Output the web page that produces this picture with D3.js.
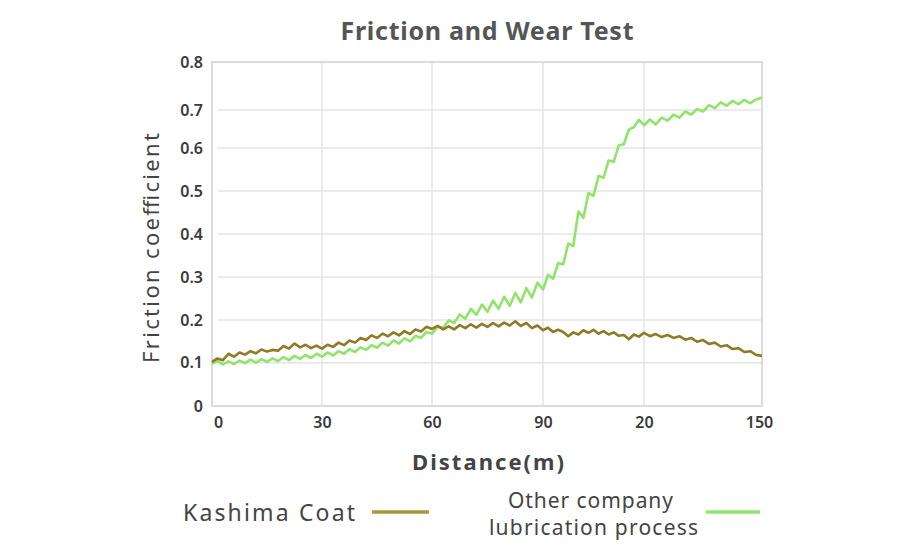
<!DOCTYPE html>
<html>
<head>
<meta charset="utf-8">
<script src="https://cdn.jsdelivr.net/npm/d3@7"></script>
<style>
  html, body { margin: 0; padding: 0; background: #fff; overflow: hidden; }
  svg { display: block; }
  text { font-family: "Noto Sans", "Liberation Sans", sans-serif; }
</style>
</head>
<body>
<div id="chart"></div>
<script>
// Data
const distance = [
  0, 1.5, 3, 4.5, 6, 7.5, 9, 10.5, 12, 13.5, 15, 16.5, 18, 19.5, 21, 22.5, 24, 25.5, 27, 28.5,
  30, 31.5, 33, 34.5, 36, 37.5, 39, 40.5, 42, 43.5, 45, 46.5, 48, 49.5, 51, 52.5, 54, 55.5, 57, 58.5,
  60, 61.5, 63, 64.5, 66, 67.5, 69, 70.5, 72, 73.5, 75, 76.5, 78, 79.5, 81, 82.5, 84, 85.5, 87, 88.5,
  90, 91.5, 93, 94.5, 96, 97.5, 99, 100.5, 102, 103.5, 105, 106.5, 108, 109.5, 111, 112.5, 114, 115.5, 117, 118.5,
  120, 121.5, 123, 124.5, 126, 127.5, 129, 130.5, 132, 133.5, 135, 136.5, 138, 139.5, 141, 142.5, 144, 145.5, 147, 148.5,
  150
];

const kashimaCoat = [
  0.102, 0.110, 0.106, 0.121, 0.114, 0.124, 0.119, 0.127, 0.122, 0.131, 0.126, 0.130, 0.128, 0.139, 0.133, 0.145, 0.136, 0.142, 0.134, 0.140,
  0.133, 0.142, 0.137, 0.147, 0.141, 0.152, 0.147, 0.158, 0.153, 0.164, 0.158, 0.168, 0.162, 0.171, 0.164, 0.174, 0.167, 0.178, 0.173, 0.184,
  0.179, 0.186, 0.178, 0.185, 0.178, 0.188, 0.181, 0.190, 0.182, 0.191, 0.184, 0.193, 0.185, 0.194, 0.187, 0.197, 0.186, 0.193, 0.181, 0.187,
  0.176, 0.182, 0.172, 0.177, 0.172, 0.162, 0.171, 0.166, 0.176, 0.170, 0.177, 0.168, 0.174, 0.166, 0.171, 0.163, 0.165, 0.155, 0.166, 0.161,
  0.170, 0.162, 0.167, 0.160, 0.165, 0.158, 0.162, 0.154, 0.158, 0.149, 0.153, 0.144, 0.147, 0.138, 0.141, 0.132, 0.134, 0.125, 0.127, 0.118,
  0.116
];

const otherCompany = [
  0.098, 0.104, 0.096, 0.103, 0.097, 0.105, 0.099, 0.107, 0.100, 0.108, 0.102, 0.110, 0.104, 0.113, 0.106, 0.116, 0.109, 0.118, 0.111, 0.121,
  0.114, 0.124, 0.117, 0.127, 0.121, 0.132, 0.125, 0.136, 0.130, 0.141, 0.135, 0.147, 0.140, 0.152, 0.145, 0.157, 0.150, 0.163, 0.158, 0.172,
  0.168, 0.184, 0.182, 0.199, 0.193, 0.213, 0.203, 0.226, 0.212, 0.236, 0.219, 0.245, 0.226, 0.254, 0.233, 0.263, 0.241, 0.274, 0.252, 0.287,
  0.271, 0.305, 0.296, 0.332, 0.330, 0.378, 0.372, 0.452, 0.438, 0.495, 0.489, 0.535, 0.531, 0.571, 0.568, 0.607, 0.610, 0.648, 0.655, 0.674,
  0.660, 0.675, 0.662, 0.680, 0.672, 0.688, 0.680, 0.696, 0.688, 0.702, 0.696, 0.710, 0.704, 0.716, 0.709, 0.719, 0.712, 0.721, 0.714, 0.722,
  0.726
];

const xTicks = [0, 30, 60, 90, 120, 150];
const xTickLabels = ["0", "30", "60", "90", "20", "150"];
const yTicks = [0, 0.1, 0.2, 0.3, 0.4, 0.5, 0.6, 0.7, 0.8];
const seriesNames = ["Kashima Coat", "Other company lubrication process"];
const seriesColors = ["#8f7b26", "#90e46a"];

const width = 900;
const height = 560;
const margin = { top: 62, right: 138, bottom: 154, left: 212 };
const innerWidth = width - margin.left - margin.right;
const innerHeight = height - margin.top - margin.bottom;

/*******************************/
/*    Append the containers    */
/*******************************/
const svg = d3.select("#chart")
  .append("svg")
    .attr("width", width)
    .attr("height", height);

const innerChart = svg
  .append("g")
    .attr("transform", `translate(${margin.left}, ${margin.top})`);

/*******************************/
/*    Define the scales        */
/*******************************/
// the source image is slightly stretched, so the grid is not evenly spaced
const xScale = d3.scaleLinear()
  .domain(xTicks)
  .range([0, 110, 220, 331, 432, innerWidth]);

const yScale = d3.scaleLinear()
  .domain(yTicks)
  .range([innerHeight, 300.7, 258, 215, 172, 129, 86, 48, 0]);

/*******************************/
/*    Grid and frame           */
/*******************************/
innerChart.append("g")
  .selectAll("line")
  .data(yTicks.slice(1, -1))
  .join("line")
    .attr("x1", 6)
    .attr("x2", innerWidth)
    .attr("y1", d => yScale(d))
    .attr("y2", d => yScale(d))
    .attr("stroke", "#e4e4e4")
    .attr("stroke-width", 1.5);

innerChart.append("g")
  .selectAll("line")
  .data(xTicks.slice(1, -1))
  .join("line")
    .attr("x1", d => xScale(d))
    .attr("x2", d => xScale(d))
    .attr("y1", 0)
    .attr("y2", innerHeight)
    .attr("stroke", "#e4e4e4")
    .attr("stroke-width", 1.5);

innerChart.append("rect")
  .attr("x", 0)
  .attr("y", 0)
  .attr("width", innerWidth)
  .attr("height", innerHeight)
  .attr("fill", "none")
  .attr("stroke", "#dcdcdc")
  .attr("stroke-width", 2);

/*******************************/
/*    Append Axes              */
/*******************************/
const bottomAxis = d3.axisBottom(xScale)
  .tickValues(xTicks)
  .tickSize(0)
  .tickPadding(11)
  .tickFormat((d, i) => xTickLabels[i]);

innerChart.append("g")
  .attr("class", "x-axis")
  .attr("transform", `translate(0, ${innerHeight})`)
  .call(bottomAxis)
  .call(g => g.select(".domain").remove())
  .selectAll("text")
    .attr("font-size", "16px")
    .attr("font-weight", 600)
    .attr("fill", "#3a3a3a")
    .attr("font-family", "Open Sans")
    .attr("dx", (d, i) => i === 0 ? 6 : (i === xTicks.length - 1 ? -3 : 0));

const leftAxis = d3.axisLeft(yScale)
  .tickValues(yTicks)
  .tickSize(0)
  .tickPadding(9)
  .tickFormat(d => d === 0 ? "0" : d3.format(".1f")(d));

innerChart.append("g")
  .attr("class", "y-axis")
  .call(leftAxis)
  .call(g => g.select(".domain").remove())
  .selectAll("text")
    .attr("font-size", "16px")
    .attr("font-weight", 600)
    .attr("fill", "#3a3a3a")
    .attr("font-family", "Open Sans");

/*******************************/
/*    Append Lines             */
/*******************************/
const lineGenerator = d3.line()
  .x((d, i) => xScale(distance[i]))
  .y(d => yScale(d));

// green first, the Kashima line sits on top of it
[otherCompany, kashimaCoat].forEach((series, k) => {
  innerChart.append("path")
    .datum(series)
    .attr("fill", "none")
    .attr("stroke", seriesColors[1 - k])
    .attr("stroke-width", 2.6)
    .attr("stroke-linejoin", "round")
    .attr("d", lineGenerator);
});

/*******************************/
/*    Titles and labels        */
/*******************************/
svg.append("text")
  .text("Friction and Wear Test")
  .attr("x", 487)
  .attr("y", 30)
  .attr("text-anchor", "middle")
  .attr("dominant-baseline", "central")
  .attr("font-size", "25px")
  .attr("font-weight", "bold")
  .attr("fill", "#555")
  .attr("textLength", 293)
  .attr("lengthAdjust", "spacing");

svg.append("text")
  .text("Distance(m)")
  .attr("x", 488)
  .attr("y", 461)
  .attr("text-anchor", "middle")
  .attr("dominant-baseline", "central")
  .attr("font-size", "22px")
  .attr("font-weight", "bold")
  .attr("fill", "#444")
  .attr("textLength", 152)
  .attr("lengthAdjust", "spacing");

svg.append("text")
  .text("Friction coefficient")
  .attr("transform", "translate(150, 248) rotate(-90)")
  .attr("text-anchor", "middle")
  .attr("dominant-baseline", "central")
  .attr("font-size", "22px")
  .attr("fill", "#444")
  .attr("textLength", 230)
  .attr("lengthAdjust", "spacing");

/*******************************/
/*    Legend                   */
/*******************************/
const legend = svg.append("g");

legend.append("text")
  .text(seriesNames[0])
  .attr("x", 183)
  .attr("y", 512)
  .attr("dominant-baseline", "central")
  .attr("font-size", "23px")
  .attr("fill", "#444")
  .attr("textLength", 172)
  .attr("lengthAdjust", "spacing");

legend.append("line")
  .attr("x1", 372).attr("x2", 429)
  .attr("y1", 512).attr("y2", 512)
  .attr("stroke", "#a8963a")
  .attr("stroke-width", 3.5);

const otherLines = ["Other company", "lubrication process"];
legend.selectAll(".other-label")
  .data(otherLines)
  .join("text")
    .attr("class", "other-label")
    .text(d => d)
    .attr("x", (d, i) => i === 0 ? 590.5 : 593.5)
    .attr("y", (d, i) => i === 0 ? 500 : 527)
    .attr("text-anchor", "middle")
    .attr("dominant-baseline", "central")
    .attr("font-size", "21px")
    .attr("fill", "#444")
    .attr("textLength", (d, i) => i === 0 ? 165 : 209)
    .attr("lengthAdjust", "spacing");

legend.append("line")
  .attr("x1", 706).attr("x2", 760)
  .attr("y1", 512).attr("y2", 512)
  .attr("stroke", seriesColors[1])
  .attr("stroke-width", 3.5);
</script>
</body>
</html>
